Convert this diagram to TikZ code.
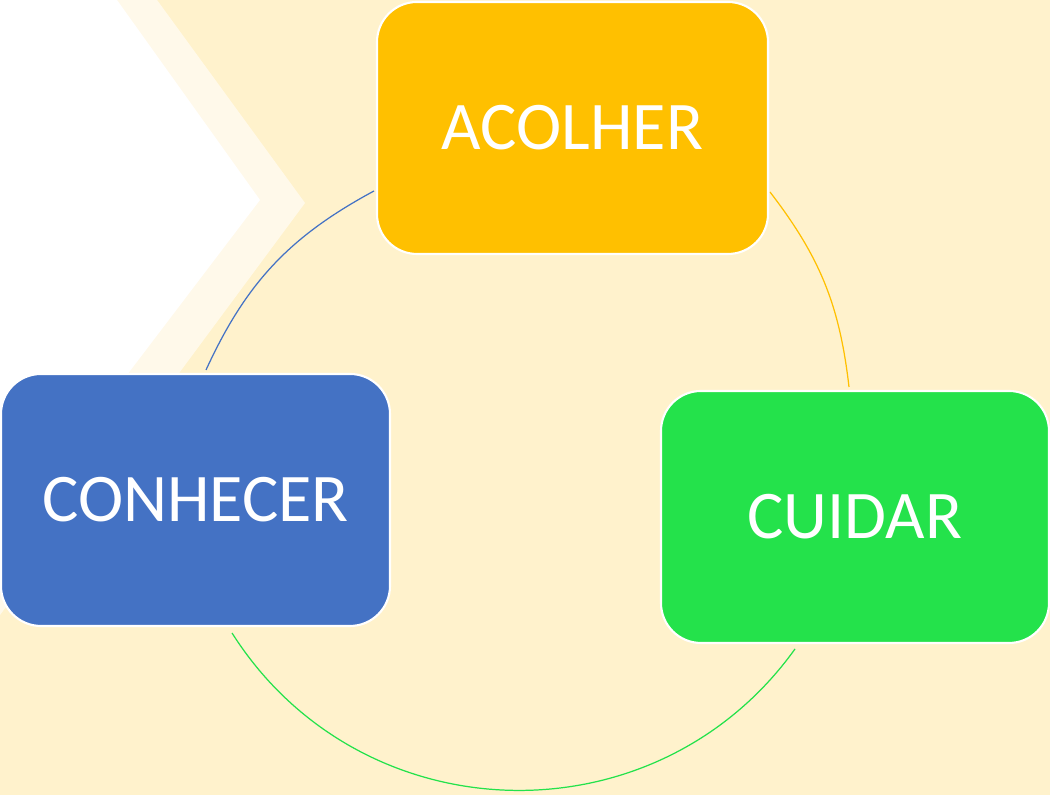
\documentclass[tikz,border=0pt]{standalone}
\usepackage{fontspec}
\setmainfont{Carlito}
\definecolor{cream}{HTML}{FFF2CC}
\definecolor{acolhercol}{HTML}{FFC000}
\definecolor{cuidarcol}{HTML}{24E24B}
\definecolor{conhecercol}{HTML}{4472C4}
\tikzset{
  stagebox/.style={draw=white, line width=0.6pt, rounded corners=0.4cm,
    minimum width=3.91cm, minimum height=2.52cm, inner sep=0pt,
    text=white, font=\fontsize{19.4}{23}\selectfont},
  cyclearc/.style={line width=0.35pt}
}

\begin{document}
\begin{tikzpicture}
	%%%%% BACKGROUND %%%%%
	\fill[cream] (0, 0) rectangle (10.5, 7.95);
	\useasboundingbox (0, 0) rectangle (10.5, 7.95);
	\fill[white, opacity=0.6] (0, 7.95) -- (1.57, 7.95) -- (3.05, 5.92) -- (0, 1.80) -- cycle;
	\fill[white] (0, 7.95) -- (1.17, 7.95) -- (2.60, 5.95) -- (0, 2.53) -- cycle;
	
	%%%%% ARCS %%%%%
	\coordinate (acolherleft) at (3.74, 6.04);
	\coordinate (conhecertop) at (2.06, 4.25);
	\coordinate (acolherright) at (7.70, 6.03);
	\coordinate (cuidartop) at (8.49, 4.08);
	\coordinate (conhecerbottom) at (2.32, 1.62);
	\coordinate (cuidarbottom) at (7.95, 1.46);
	
	\draw[cyclearc, color=conhecercol] (acolherleft) to[bend right=18.5] (conhecertop);
	\draw[cyclearc, color=acolhercol] (acolherright) to[bend left=15.5] (cuidartop);
	\draw[cyclearc, color=cuidarcol] (conhecerbottom) to[bend right=56, looseness=1.09] (cuidarbottom);
	
	%%%%% BOXES %%%%%
	\node[stagebox, fill=acolhercol] (acolher) at (5.725, 6.67) {ACOLHER};
	\node[stagebox, fill=cuidarcol, minimum width=3.88cm] (cuidar) at (8.55, 2.78) {CUIDAR};
	\node[stagebox, fill=conhecercol, minimum width=3.89cm] (conhecer) at (1.955, 2.95) {CONHECER};
\end{tikzpicture}
\end{document}
